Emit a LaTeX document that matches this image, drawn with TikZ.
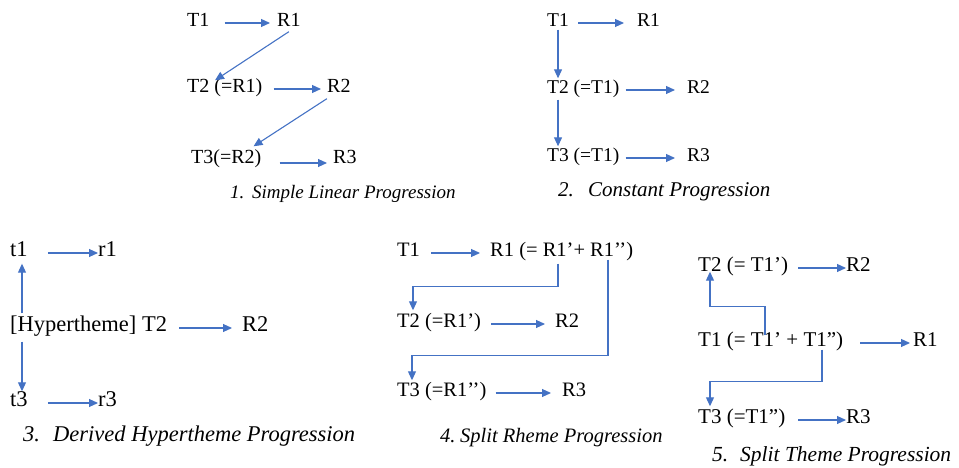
\documentclass[tikz,border=0pt]{standalone}
\usepackage{fontspec}
\setmainfont{Liberation Serif}
\usetikzlibrary{arrows.meta,calc}
\definecolor{arrowblue}{RGB}{68,114,196}
\newcommand{\myfs}[1]{\fontsize{#1}{#1}\selectfont}
\tikzset{
  lbl/.style={inner sep=0pt, anchor=west, text height=0.68em, text depth=0.02em},
  capt/.style={lbl, font=\itshape},
  arr/.style={draw=arrowblue, line width=1.1pt, -{Triangle[length=9pt,width=8pt]}},
}
\begin{document}
\begin{tikzpicture}[x=1pt,y=1pt]
\useasboundingbox (0,0) rectangle (959,468);
% ---------- Panel 1 ----------
\begin{scope}[every node/.append style={font={\myfs{20}}}]
\node[lbl] (a1) at (187,445) {T1};
\node[lbl] (a2) at (277,445) {R1};
\node[lbl] (a3) at (187,379) {T2 (=R1)};
\node[lbl] (a4) at (327,379) {R2};
\node[lbl] (a5) at (191,308) {T3(=R2)};
\node[lbl] (a6) at (333,308) {R3};
\end{scope}
\node[capt,font={\itshape\myfs{19}}] (cap1) at (230,273) {\makebox[22pt][l]{1.}Simple Linear Progression};
\draw[arr] ([xshift=15pt]a1.east) -- ([xshift=-7pt]a2.west);
\draw[arr] ([yshift=-5pt]a2.south) -- ([xshift=28pt,yshift=5pt]a3.north west);
\draw[arr] ([xshift=11pt]a3.east) -- ([xshift=-6pt]a4.west);
\draw[arr] ([xshift=-12pt,yshift=-6pt]a4.south) -- ([xshift=-8pt,yshift=10pt]a5.north east);
\draw[arr] ([xshift=18pt,yshift=-3pt]a5.east) -- ([xshift=-6pt,yshift=-3pt]a6.west);
% ---------- Panel 2 ----------
\begin{scope}[every node/.append style={font={\myfs{19.5}}}]
\node[lbl] (b1) at (547,445) {T1};
\node[lbl] (b2) at (637,445) {R1};
\node[lbl] (b3) at (547,378) {T2 (=T1)};
\node[lbl] (b4) at (687,378) {R2};
\node[lbl] (b5) at (547,310) {T3 (=T1)};
\node[lbl] (b6) at (687,310) {R3};
\end{scope}
\node[capt,font={\itshape\myfs{21}}] (cap2) at (558,275) {\makebox[30pt][l]{2.}Constant Progression};
\draw[arr] ([xshift=9pt]b1.east) -- ([xshift=-13pt]b2.west);
\draw[arr] ([xshift=6pt]b3.east) -- ([xshift=-12pt]b4.west);
\draw[arr] ([xshift=6pt]b5.east) -- ([xshift=-12pt]b6.west);
\draw[arr] ([yshift=-3pt]b1.south) -- ($(b1.south |- b3.north)+(0,8pt)$);
\draw[arr] ($(b1.south |- b3.south)+(0,-6pt)$) -- ($(b1.south |- b5.north)+(0,8pt)$);
% ---------- Panel 3 ----------
\begin{scope}[every node/.append style={font={\myfs{22.5}}}]
\node[lbl] (c1) at (10,215) {t1};
\node[lbl] (c2) at (98,215) {r1};
\node[lbl] (c3) at (10,140) {[Hypertheme] T2};
\node[lbl] (c4) at (242,140) {R2};
\node[lbl] (c5) at (10,65) {t3};
\node[lbl] (c6) at (98,65) {r3};
\end{scope}
\node[capt,font={\itshape\myfs{22.5}}] (cap3) at (23,30) {\makebox[30pt][l]{3.}Derived Hypertheme Progression};
\draw[arr] ([xshift=20pt]c1.east) -- (c2.west);
\draw[arr] ([xshift=12pt]c3.east) -- ([xshift=-10pt]c4.west);
\draw[arr] ([xshift=20pt]c5.east) -- (c6.west);
\draw[arr] ($(c3.north west)+(12pt,11pt)$) -- ($(c3.north west |- c1.south)+(12pt,-7pt)$);
\draw[arr] ($(c3.south west)+(12pt,-10pt)$) -- ($(c3.south west |- c5.north)+(12pt,8pt)$);
% ---------- Panel 4 ----------
\begin{scope}[every node/.append style={font={\myfs{20.5}}}]
\node[lbl] (d1) at (397,215) {T1};
\node[lbl] (d2) at (490,215) {R1 (= R1’+ R1’’)};
\node[lbl] (d3) at (397,144) {T2 (=R1’)};
\node[lbl] (d4) at (555,144) {R2};
\node[lbl] (d5) at (397,75) {T3 (=R1’’)};
\node[lbl] (d6) at (562,75) {R3};
\end{scope}
\node[capt,font={\itshape\myfs{20.5}}] (cap4) at (440,29) {\makebox[20pt][l]{4.}Split Rheme Progression};
\draw[arr] ([xshift=11pt]d1.east) -- ([xshift=-10pt]d2.west);
\draw[arr] ([xshift=10pt]d3.east) -- ([xshift=-10pt]d4.west);
\draw[arr] ([xshift=9pt]d5.east) -- ([xshift=-11pt]d6.west);
\draw[arr] ($(d2.south west)+(68pt,-7pt)$) |- ($(d3.north west)+(16pt,34pt)$) -- ($(d3.north west)+(16pt,10pt)$);
\draw[arr] ($(d2.south west)+(118pt,-3pt)$) |- ($(d5.north west)+(15pt,34pt)$) -- ($(d5.north west)+(15pt,9pt)$);
% ---------- Panel 5 ----------
\begin{scope}[every node/.append style={font={\myfs{21}}}]
\node[lbl] (e1) at (698,200) {T2 (= T1’)};
\node[lbl] (e2) at (846,200) {R2};
\node[lbl] (e3) at (698,125) {T1 (= T1’ + T1”)};
\node[lbl] (e4) at (913,125) {R1};
\node[lbl] (e5) at (698,48) {T3 (=T1”)};
\node[lbl] (e6) at (846,48) {R3};
\end{scope}
\node[capt,font={\itshape\myfs{21.5}}] (cap5) at (712,10) {\makebox[28pt][l]{5.}Split Theme Progression};
\draw[arr] ([xshift=10pt]e1.east) -- (e2.west);
\draw[arr] ([xshift=17pt]e3.east) -- ([xshift=-3pt]e4.west);
\draw[arr] ([xshift=13pt]e5.east) -- (e6.west);
\draw[arr] ($(e3.north west)+(67pt,4pt)$) |- ($(e1.south west)+(12pt,-35pt)$) -- ($(e1.south west)+(12pt,0pt)$);
\draw[arr] ($(e3.south west)+(124pt,-3pt)$) |- ($(e5.north west)+(12pt,35pt)$) -- ($(e5.north west)+(12pt,10pt)$);
\end{tikzpicture}
\end{document}
